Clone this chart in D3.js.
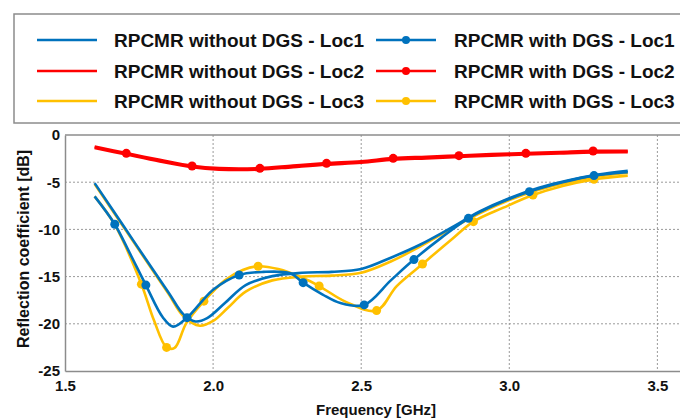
<!DOCTYPE html>
<html>
<head>
<meta charset="utf-8">
<script src="https://cdn.jsdelivr.net/npm/d3@7.9.0/dist/d3.min.js"></script>
<style>
  body { margin: 0; background: #fff; }
  svg { display: block; font-family: "Liberation Sans", Arial, sans-serif; }
</style>
</head>
<body>
<div id="chart"></div>
<script>
// ---- data ----
const xTicks = [1.5, 2.0, 2.5, 3.0, 3.5];
const yTicks = [0, -5, -10, -15, -20, -25];

// RPCMR without DGS - Loc1
const noDgs1F  = [1.60, 1.70, 1.76, 1.85, 1.90, 1.94, 1.98, 2.04, 2.11, 2.20, 2.30, 2.40, 2.50, 2.60, 2.70, 2.80, 2.90, 3.00, 3.10, 3.20, 3.30, 3.40];
const noDgs1Db = [-5.1, -9.75, -12.55, -16.7, -19.0, -19.75, -19.4, -17.8, -15.9, -14.95, -14.6, -14.5, -14.2, -13.0, -11.6, -9.9, -8.1, -6.7, -5.6, -4.8, -4.2, -3.8];

// RPCMR without DGS - Loc2
const noDgs2F  = [1.60, 1.707, 1.82, 1.929, 2.02, 2.158, 2.27, 2.383, 2.50, 2.608, 2.72, 2.83, 2.94, 3.056, 3.17, 3.283, 3.40];
const noDgs2Db = [-1.35, -2.05, -2.78, -3.4, -3.65, -3.65, -3.38, -3.12, -2.92, -2.6, -2.45, -2.3, -2.17, -2.05, -1.93, -1.82, -1.8];

// RPCMR without DGS - Loc3
const noDgs3F  = [1.60, 1.70, 1.76, 1.85, 1.90, 1.955, 2.00, 2.05, 2.11, 2.20, 2.30, 2.40, 2.50, 2.60, 2.70, 2.80, 2.90, 3.00, 3.10, 3.20, 3.30, 3.40];
const noDgs3Db = [-5.2, -9.85, -12.65, -16.85, -19.2, -20.2, -19.7, -18.3, -16.6, -15.4, -15.0, -14.9, -14.6, -13.4, -11.8, -10.0, -8.3, -6.9, -5.8, -5.0, -4.4, -4.0];

// RPCMR with DGS - Loc1 (markers at marks indices)
const dgs1F     = [1.60, 1.668, 1.72, 1.773, 1.83, 1.865, 1.912, 1.96, 2.00, 2.088, 2.17, 2.26, 2.304, 2.37, 2.43, 2.51, 2.60, 2.678, 2.77, 2.862, 2.96, 3.068, 3.18, 3.286, 3.40];
const dgs1Db    = [-6.5, -9.45, -12.6, -15.9, -19.3, -20.3, -19.35, -17.7, -16.4, -14.83, -14.5, -14.65, -15.64, -16.9, -17.8, -18.0, -15.4, -13.2, -10.9, -8.83, -7.3, -6.0, -5.0, -4.3, -3.95];
const dgs1Marks = [1, 3, 6, 9, 12, 15, 17, 19, 21, 23];

// RPCMR with DGS - Loc2
const dgs2F     = [1.60, 1.707, 1.82, 1.929, 2.02, 2.158, 2.27, 2.383, 2.50, 2.608, 2.72, 2.83, 2.94, 3.056, 3.17, 3.283, 3.40];
const dgs2Db    = [-1.24, -1.94, -2.65, -3.28, -3.53, -3.53, -3.25, -3.0, -2.8, -2.47, -2.33, -2.19, -2.05, -1.94, -1.82, -1.7, -1.7];
const dgs2Marks = [1, 3, 5, 7, 9, 11, 13, 15];

// RPCMR with DGS - Loc3
const dgs3F     = [1.60, 1.668, 1.758, 1.80, 1.843, 1.87, 1.91, 1.969, 2.04, 2.10, 2.152, 2.22, 2.30, 2.358, 2.45, 2.552, 2.62, 2.707, 2.80, 2.879, 2.98, 3.08, 3.18, 3.286, 3.40];
const dgs3Db    = [-6.5, -9.5, -15.8, -19.6, -22.5, -22.55, -19.9, -17.6, -15.4, -14.3, -13.9, -14.2, -15.1, -16.0, -17.7, -18.6, -16.0, -13.67, -11.2, -9.18, -7.7, -6.36, -5.4, -4.7, -4.3];
const dgs3Marks = [2, 4, 7, 10, 13, 15, 17, 19, 21, 23];

const legendLabels = [
    "RPCMR without DGS - Loc1", "RPCMR without DGS - Loc2", "RPCMR without DGS - Loc3",
    "RPCMR with DGS - Loc1", "RPCMR with DGS - Loc2", "RPCMR with DGS - Loc3"
];

const blue = "#0072BD", red = "#FF0000", yellow = "#FFC000";

function pts(f, db) {
    return f.map((v, i) => ({ f: v, db: db[i] }));
}

// drawing order: yellow under red under blue
const series = [
    { data: pts(noDgs3F, noDgs3Db), color: yellow, marks: [] },
    { data: pts(dgs3F, dgs3Db), color: yellow, marks: dgs3Marks },
    { data: pts(noDgs2F, noDgs2Db), color: red, marks: [] },
    { data: pts(dgs2F, dgs2Db), color: red, marks: dgs2Marks },
    { data: pts(noDgs1F, noDgs1Db), color: blue, marks: [] },
    { data: pts(dgs1F, dgs1Db), color: blue, marks: dgs1Marks }
];

// ---- layout ----
const width = 680, height = 419;
const plot = { left: 65, top: 135, bottom: 371, right: 687 };

const svg = d3.select('#chart')
    .append('svg')
    .attr('width', width)
    .attr('height', height);

const x = d3.scaleLinear().domain([1.5, 3.6]).range([plot.left, plot.right]);
const y = d3.scaleLinear().domain([-25, 0]).range([plot.bottom, plot.top]);

// gridlines
svg.append('g')
    .selectAll('line')
    .data(xTicks.slice(1))
    .join('line')
    .attr('x1', d => x(d)).attr('x2', d => x(d))
    .attr('y1', plot.top).attr('y2', plot.bottom)
    .attr('stroke', '#9a9a9a').attr('stroke-dasharray', '2,2');

svg.append('g')
    .selectAll('line')
    .data(yTicks.slice(1, -1))
    .join('line')
    .attr('x1', plot.left).attr('x2', plot.right)
    .attr('y1', d => y(d)).attr('y2', d => y(d))
    .attr('stroke', '#9a9a9a').attr('stroke-dasharray', '2,2');

// frame
svg.append('line')
    .attr('x1', plot.left).attr('x2', plot.right)
    .attr('y1', plot.top).attr('y2', plot.top)
    .attr('stroke', '#8c8c8c').attr('stroke-width', 1.5);

// axes
const xAxis = svg.append('g')
    .attr('transform', `translate(0, ${plot.bottom})`)
    .call(d3.axisBottom(x).tickValues(xTicks).tickFormat(d3.format('.1f')).tickSize(0).tickPadding(9));
const yAxis = svg.append('g')
    .attr('transform', `translate(${plot.left}, 0)`)
    .call(d3.axisLeft(y).tickValues(yTicks).tickFormat(d => d).tickSize(0).tickPadding(5));

[xAxis, yAxis].forEach(a => {
    a.select('.domain').attr('stroke', '#8c8c8c').attr('stroke-width', 1.5);
    a.selectAll('text')
        .attr('font-family', '"Liberation Sans", Arial, sans-serif')
        .attr('font-size', 15)
        .attr('font-weight', 'bold')
        .attr('fill', '#111');
});

svg.append('text')
    .attr('x', 376).attr('y', 415)
    .attr('text-anchor', 'middle')
    .attr('font-size', 15).attr('font-weight', 'bold').attr('fill', '#111')
    .text('Frequency [GHz]');

svg.append('text')
    .attr('transform', 'translate(29, 249) rotate(-90)')
    .attr('text-anchor', 'middle')
    .attr('font-size', 16).attr('font-weight', 'bold').attr('fill', '#111')
    .text('Reflection coefficient [dB]');

// curves
const line = d3.line()
    .x(d => x(d.f))
    .y(d => y(d.db))
    .curve(d3.curveCatmullRom.alpha(0.5));

const curves = svg.append('g');
series.forEach(s => {
    curves.append('path')
        .attr('d', line(s.data))
        .attr('fill', 'none')
        .attr('stroke', s.color)
        .attr('stroke-width', s.color === red ? 3 : 2.6);
    curves.selectAll(null)
        .data(s.marks.map(i => s.data[i]))
        .join('circle')
        .attr('cx', d => x(d.f))
        .attr('cy', d => y(d.db))
        .attr('r', 4.5)
        .attr('fill', s.color);
});

// legend
const legend = svg.append('g');
legend.append('rect')
    .attr('x', 14).attr('y', 14)
    .attr('width', 700).attr('height', 109)
    .attr('fill', '#fff')
    .attr('stroke', '#8c8c8c').attr('stroke-width', 1.5);

const legendColors = [blue, red, yellow, blue, red, yellow];
const rowY = [40, 71, 101];
const colX = [{ l: 37, t: 114 }, { l: 376, t: 454 }];

legendLabels.forEach((label, i) => {
    const col = colX[Math.floor(i / 3)];
    const yy = rowY[i % 3];
    legend.append('line')
        .attr('x1', col.l).attr('x2', col.l + 60)
        .attr('y1', yy).attr('y2', yy)
        .attr('stroke', legendColors[i]).attr('stroke-width', 2.6);
    if (i >= 3) {
        legend.append('circle')
            .attr('cx', col.l + 30).attr('cy', yy).attr('r', 4)
            .attr('fill', legendColors[i]);
    }
    legend.append('text')
        .attr('x', col.t).attr('y', yy)
        .attr('dy', '0.36em')
        .attr('font-size', 19).attr('font-weight', 'bold').attr('fill', '#111')
        .text(label);
});
</script>
</body>
</html>
